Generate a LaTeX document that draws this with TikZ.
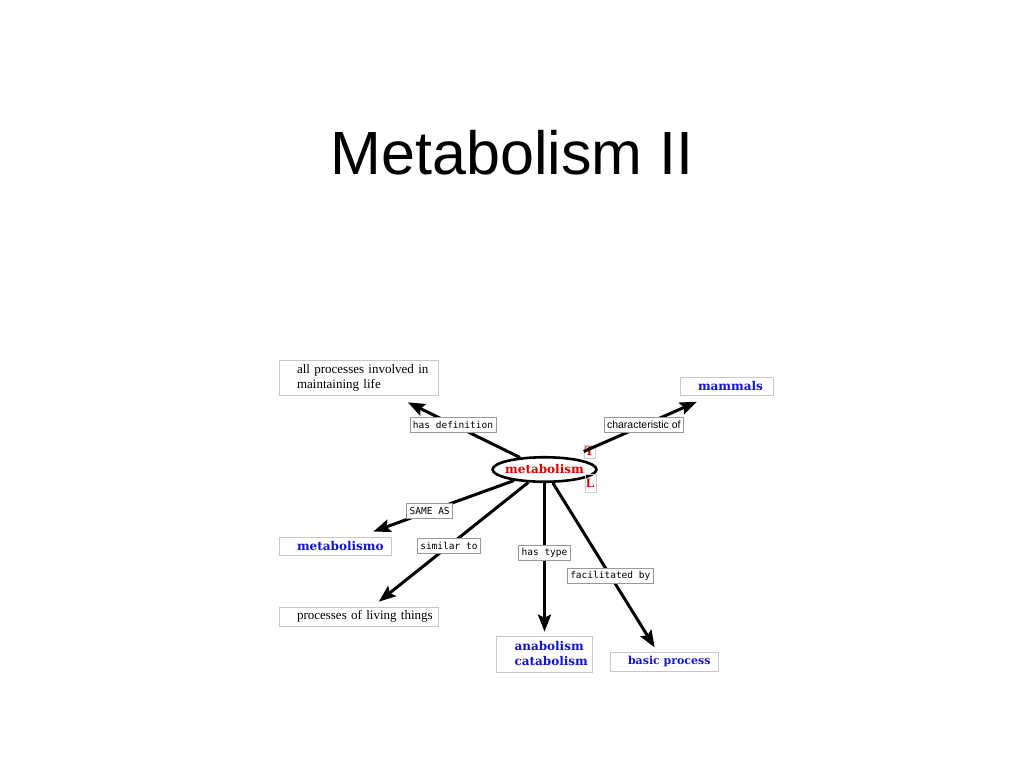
\documentclass[tikz,border=0pt]{standalone}
\usepackage{fontspec}
\setmainfont{Liberation Serif}
\newfontfamily\headfont{Liberation Sans}
\newfontfamily\conceptfont{DejaVu Serif}
\newfontfamily\linkfont{DejaVu Sans Mono}
\usetikzlibrary{arrows.meta,shapes.geometric}
\definecolor{mapblue}{RGB}{20,20,200}
\definecolor{mapred}{RGB}{210,0,0}
\tikzset{
  mapbox/.style={draw=black!22, line width=0.7pt, inner xsep=4pt, inner ysep=1pt, align=left,
    font=\fontsize{13}{15}\selectfont, execute at begin node={\leftskip=14pt}},
  bluebox/.style={mapbox, text=mapblue, font=\conceptfont\bfseries\fontsize{12}{15}\selectfont},
  linkbox/.style={draw=black!40, line width=0.6pt, fill=white, inner xsep=3pt, inner ysep=1pt,
    minimum height=15pt, font=\linkfont\fontsize{9.5}{11}\selectfont},
  markbox/.style={draw=black!20, line width=0.5pt, inner sep=0.5pt, minimum width=11pt,
    text=mapred, font=\bfseries\fontsize{13}{13}\selectfont},
  arr/.style={line width=3pt, -{Stealth[length=17pt,width=13pt,inset=3pt]}}
}
\begin{document}
\begin{tikzpicture}[x=1pt,y=-1pt]
\useasboundingbox (0,0) rectangle (1024,768);
% title
\node[font=\headfont\fontsize{61}{70}\selectfont, anchor=base] (title) at (512,174) {Metabolism II};
% concepts
\node[ellipse, draw, line width=2.6pt, inner xsep=-2.6pt, inner ysep=0pt, minimum height=24.5pt,
  text=mapred, font=\conceptfont\bfseries\fontsize{12}{15}\selectfont] (metab) at (544.5,469.5) {metabolism};
\node[markbox, minimum height=13pt] (tmark) at (589.5,451.5) {T};
\node[markbox, minimum height=18pt] (lmark) at (590.5,483) {L};
\node[mapbox, text width=151pt, minimum height=35pt] (def) at (358.5,377.5) {all processes involved in\\maintaining life};
\node[bluebox, text width=85pt, minimum height=18pt] (mammals) at (726.5,386) {mammals};
\node[bluebox, text width=104pt, minimum height=18pt] (metabolismo) at (335,546) {metabolismo};
\node[mapbox, text width=151pt, minimum height=19pt] (living) at (358.5,616.5) {processes of living things};
\node[bluebox, text width=88pt, minimum height=36pt] (types) at (544.5,654) {anabolism\\catabolism};
\node[bluebox, text width=100pt, minimum height=19pt, font=\conceptfont\bfseries\fontsize{11}{15}\selectfont] (basic) at (664,661.5) {basic~process};
% links
\draw[arr, shorten >=16pt] (metab) -- node[linkbox, pos=0.53] {has definition} (def.-27);
\draw[arr, shorten >=16pt] (tmark.west) -- node[linkbox, pos=0.47, font=\headfont\fontsize{10.5}{12}\selectfont] {characteristic of} (mammals.212);
\draw[arr, shorten >=15pt] (metab) -- node[linkbox, pos=0.545] {SAME AS} (metabolismo.21);
\draw[arr, shorten >=8pt] (metab) -- node[linkbox, pos=0.51] {similar to} (living.35);
\draw[arr, shorten >=4pt] (metab) -- node[linkbox, pos=0.46] {has type} (types.north);
\draw[arr, shorten >=5pt] (metab) -- node[linkbox, pos=0.55] {facilitated by} (basic.124);
\end{tikzpicture}
\end{document}
